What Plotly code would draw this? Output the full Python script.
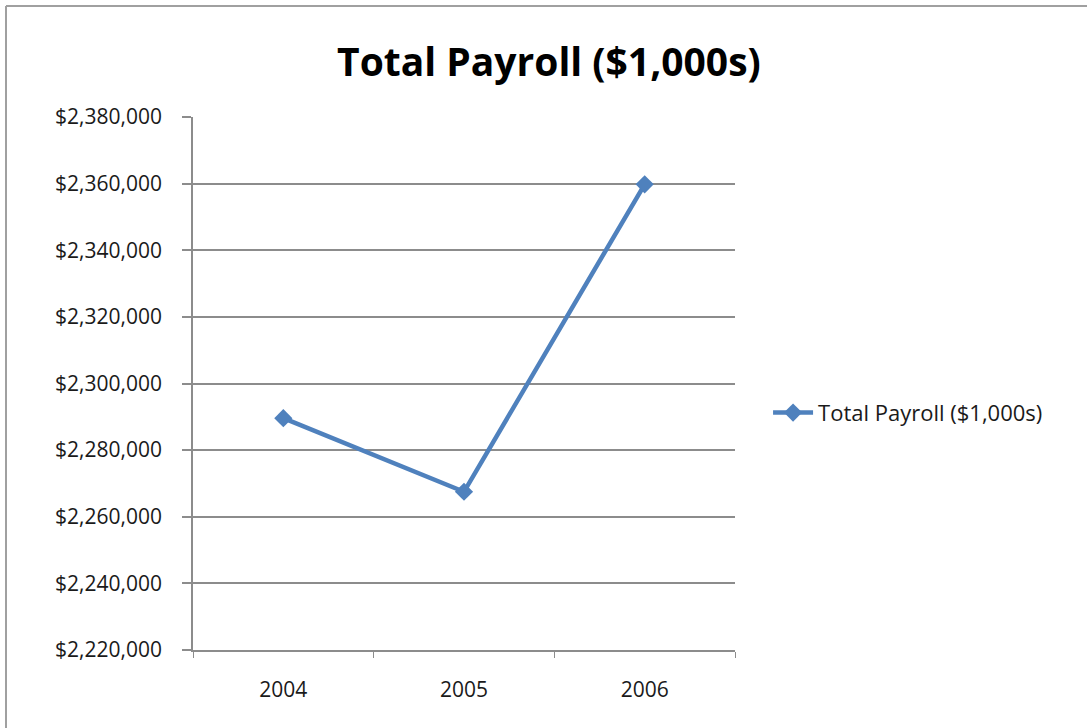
import plotly.graph_objects as go

years = ["2004", "2005", "2006"]
payroll = [2289600, 2267500, 2359800]
series_name = "Total Payroll ($1,000s)"
y_ticks = [2220000, 2240000, 2260000, 2280000, 2300000, 2320000, 2340000, 2360000, 2380000]
y_tick_text = [f"${v:,}" for v in y_ticks]

blue = "#4F81BD"
grid = "#8C8C8C"
font_family = "Open Sans, Liberation Sans, sans-serif"

fig = go.Figure()
fig.add_trace(go.Scatter(
    x=years, y=payroll, name=series_name,
    mode="lines+markers",
    line=dict(color=blue, width=4.5),
    marker=dict(symbol="diamond", size=14, color=blue),
    showlegend=True,
))

fig.update_layout(
    width=1087, height=728,
    paper_bgcolor="white", plot_bgcolor="white",
    margin=dict(l=193, r=352, t=117, b=78),
    title=dict(text="<b>Total Payroll ($1,000s)</b>", x=0.505, xanchor="center",
               y=1 - 62 / 728, yanchor="middle",
               font=dict(size=39, color="black", family=font_family)),
    font=dict(family=font_family, color="#1a1a1a"),
    showlegend=True,
    legend=dict(x=1.061, xanchor="left", y=0.445, yanchor="middle",
                font=dict(size=22, color="#1a1a1a"), bgcolor="rgba(0,0,0,0)",
                itemwidth=40),
    xaxis=dict(type="category", range=[-0.5, 2.5], tickson="boundaries",
               ticks="outside", ticklen=6, tickcolor=grid, tickwidth=1,
               showline=True, linecolor=grid, linewidth=1.5,
               showgrid=False, tickfont=dict(size=21, color="#1a1a1a"),
               ticklabelstandoff=20),
    yaxis=dict(range=[2220000, 2380000], tickmode="array",
               tickvals=y_ticks, ticktext=y_tick_text,
               ticks="outside", ticklen=9, tickcolor=grid, tickwidth=1.5,
               showline=True, linecolor=grid, linewidth=1.5,
               showgrid=True, gridcolor=grid, gridwidth=1.5,
               zeroline=False, tickfont=dict(size=21, color="#1a1a1a"),
               ticklabelstandoff=16),
)

# outer chart border (left and top edges visible)
fig.add_shape(type="line", xref="paper", yref="paper",
              x0=-187 / 542, x1=894 / 542, y0=(650 - 6) / 533, y1=(650 - 6) / 533,
              line=dict(color="#A0A0A0", width=2))
fig.add_shape(type="line", xref="paper", yref="paper",
              x0=-187 / 542, x1=-187 / 542, y0=(650 - 6) / 533, y1=(650 - 728) / 533,
              line=dict(color="#A0A0A0", width=2))

fig.write_html("out.html", config={"displayModeBar": False},
               post_script="document.body.style.margin='0px';")
